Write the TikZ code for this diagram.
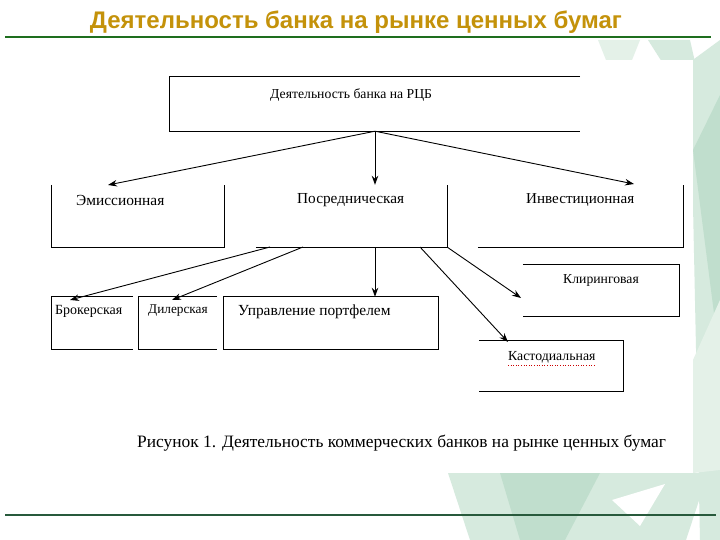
\documentclass[tikz,border=0pt]{standalone}
\usepackage{fontspec}
\setmainfont{Liberation Serif}
\newfontfamily\titlefont{Liberation Sans}
\usetikzlibrary{arrows.meta,calc}
\definecolor{titlegold}{RGB}{196,146,10}
\definecolor{linegreen}{RGB}{30,110,30}
\definecolor{botgreen}{RGB}{40,90,60}
\definecolor{pale1}{RGB}{214,234,222}
\definecolor{pale2}{RGB}{192,222,205}
\definecolor{pale3}{RGB}{228,241,232}
\begin{document}
\begin{tikzpicture}[x=1pt,y=-1pt,
  boxline/.style={line width=1.1pt,black},
  conn/.style={line width=0.9pt,black,-{Stealth[length=9pt,width=6.5pt]}},
  lbl/.style={inner sep=0pt,anchor=west,font=\fontsize{13}{15}\selectfont},
  area/.style={inner sep=0pt,draw=none}]
\useasboundingbox (0,0) rectangle (720,540);
\fill[white] (0,0) rectangle (720,540);
% background decorations
\fill[pale1] (690,62) -- (720,40) -- (720,540) -- (700,540) -- cycle;
\fill[pale2] (693,150) -- (720,95) -- (720,360) -- cycle;
\fill[pale3] (693,360) -- (720,300) -- (720,470) -- (693,473) -- cycle;
\fill[pale1] (648,40) -- (690,40) -- (695,62) -- (662,62) -- cycle;
\fill[pale3] (598,40) -- (640,40) -- (632,60) -- (606,60) -- cycle;
\fill[pale1] (448,473) -- (708,473) -- (686,540) -- (470,540) -- cycle;
\fill[pale2] (500,473) -- (600,473) -- (565,540) -- (520,540) -- cycle;
\fill[white] (612,500) -- (665,484) -- (640,526) -- cycle;
% scanned page
\fill[white] (40,60) rectangle (693,473);
% title and rules
\node[font=\titlefont\bfseries\fontsize{24}{27}\selectfont,text=titlegold,inner sep=0pt] (title) at (356,22) {Деятельность банка на рынке ценных бумаг};
\draw[linegreen,line width=2pt] (5,37) -- (711,37);
\draw[botgreen,line width=1.2pt] (5,515) -- (716,515);
% box areas
\node[area,minimum width=410pt,minimum height=54pt] (top) at (375,104) {};
\node[area,minimum width=172pt,minimum height=62pt] (emis) at (138,216) {};
\node[area,minimum width=191pt,minimum height=62pt] (posr) at (351.5,216) {};
\node[area,minimum width=205pt,minimum height=62pt] (inv) at (580.5,216) {};
\node[area,minimum width=81pt,minimum height=52pt] (brok) at (92.5,323) {};
\node[area,minimum width=78pt,minimum height=52pt] (dil) at (178,323) {};
\node[area,minimum width=214pt,minimum height=52pt] (upr) at (331,323) {};
\node[area,minimum width=156pt,minimum height=51pt] (klir) at (601,290.5) {};
\node[area,minimum width=144pt,minimum height=50pt] (kast) at (551,366) {};
% box outlines (as in the scan, partly open)
\draw[boxline] (top.north east) -- (top.north west) -- (top.south west) -- (top.south east);
\draw[boxline] (emis.north west) -- (emis.south west) -- (emis.south east) -- (emis.north east);
\draw[boxline] (posr.south west) -- (posr.south east) -- (posr.north east);
\draw[boxline] (inv.south west) -- (inv.south east) -- (inv.north east);
\draw[boxline] (brok.north east) -- (brok.north west) -- (brok.south west) -- (brok.south east);
\draw[boxline] (dil.north east) -- (dil.north west) -- (dil.south west) -- (dil.south east);
\draw[boxline] (upr.north west) rectangle (upr.south east);
\draw[boxline] (klir.north west) -- (klir.north east) -- (klir.south east) -- (klir.south west);
\draw[boxline] (kast.north west) -- (kast.north east) -- (kast.south east) -- (kast.south west);
% labels
\node[lbl,font=\fontsize{13.7}{16}\selectfont] (ttop) at (270,95) {Деятельность банка на РЦБ};
\node[lbl,font=\fontsize{15.4}{17}\selectfont] (temis) at (76,200) {Эмиссионная};
\node[lbl,font=\fontsize{15.3}{17}\selectfont] (tposr) at (297,200) {Посредническая};
\node[lbl,font=\fontsize{15.1}{17}\selectfont] (tinv) at (526,200) {Инвестиционная};
\node[lbl,font=\fontsize{14}{16}\selectfont] (tbrok) at (55,311) {Брокерская};
\node[lbl,font=\fontsize{13.3}{15}\selectfont] (tdil) at (148,311) {Дилерская};
\node[lbl,font=\fontsize{15.4}{17}\selectfont] (tupr) at (238,312) {Управление портфелем};
\node[lbl,font=\fontsize{13.7}{16}\selectfont] (tklir) at (563,280) {Клиринговая};
\node[lbl,font=\fontsize{13.8}{16}\selectfont] (tkast) at (508,357) {Кастодиальная};
\draw[red!80!black,line width=0.6pt,dotted] ($(tkast.south west)+(0,2)$) -- ($(tkast.south east)+(0,2)$);
\node[lbl,font=\fontsize{17.4}{20}\selectfont] (cap) at (137,443) {Рисунок 1. Деятельность коммерческих банков на рынке ценных бумаг};
% connector end points
\coordinate (aE) at (108,185);
\coordinate (aI) at (634,184);
\coordinate (sB) at (270,247);
\coordinate (sD) at (303,247);
\coordinate (sK) at (420,247);
\coordinate (sL) at (447,247);
\coordinate (aB) at (70,300);
\coordinate (aD) at (172,300);
\coordinate (aL) at (521,298);
\coordinate (aK) at (508,342);
% connectors
\draw[conn] (top.south) -- (aE);
\draw[conn] (top.south) -- (posr.north -| top.south);
\draw[conn] (top.south) -- (aI);
\draw[conn] (sB) -- (aB);
\draw[conn] (sD) -- (aD);
\draw[conn] (posr.south -| top.south) -- (upr.north -| top.south);
\draw[conn] (sK) -- (aK);
\draw[conn] (sL) -- (aL);
\end{tikzpicture}
\end{document}
